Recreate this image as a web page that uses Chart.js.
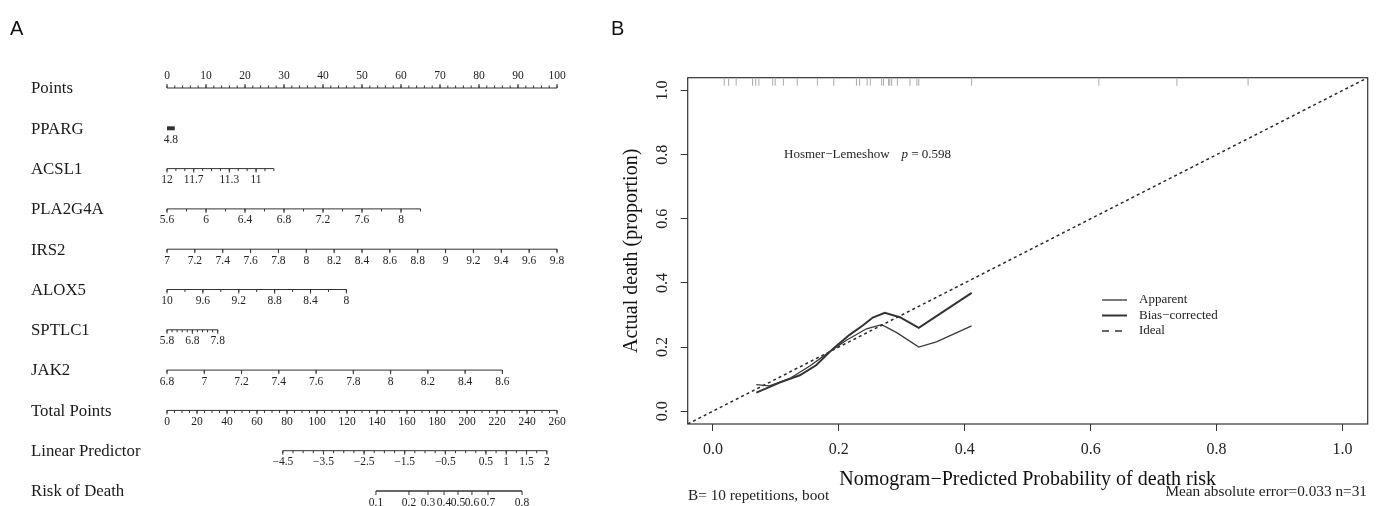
<!DOCTYPE html>
<html>
<head>
<meta charset="utf-8">
<script src="https://cdn.jsdelivr.net/npm/chart.js@4.4.1/dist/chart.umd.min.js"></script>
<style>
  html, body { margin: 0; padding: 0; background: #fff; }
  #wrap { position: relative; width: 1380px; height: 506px; }
  #boxA { position: absolute; left: 0; top: 0; width: 600px; height: 506px; }
  #boxB { position: absolute; left: 600px; top: 0; width: 780px; height: 506px; }
</style>
</head>
<body>
<div id="wrap">
  <div id="boxA"><canvas id="nomo"></canvas></div>
  <div id="boxB"><canvas id="calib"></canvas></div>
</div>
<script>
// ---------- panel A : nomogram ----------
const rowNames = ['Points', 'PPARG', 'ACSL1', 'PLA2G4A', 'IRS2', 'ALOX5', 'SPTLC1', 'JAK2',
  'Total Points', 'Linear Predictor', 'Risk of Death'];

const pointsLabels = [0, 10, 20, 30, 40, 50, 60, 70, 80, 90, 100];
const ppargLabels = [4.8];
const acsl1Labels = [12, 11.7, 11.3, 11];
const pla2g4aLabels = [5.6, 6, 6.4, 6.8, 7.2, 7.6, 8];
const irs2Labels = [7, 7.2, 7.4, 7.6, 7.8, 8, 8.2, 8.4, 8.6, 8.8, 9, 9.2, 9.4, 9.6, 9.8];
const alox5Labels = [10, 9.6, 9.2, 8.8, 8.4, 8];
const sptlc1Labels = [5.8, 6.8, 7.8];
const jak2Labels = [6.8, 7, 7.2, 7.4, 7.6, 7.8, 8, 8.2, 8.4, 8.6];
const totalLabels = [0, 20, 40, 60, 80, 100, 120, 140, 160, 180, 200, 220, 240, 260];
const lpLabels = [-4.5, -3.5, -2.5, -1.5, -0.5, 0.5, 1, 1.5, 2];
const riskLabels = [0.1, 0.2, 0.3, 0.4, 0.5, 0.6, 0.7, 0.8];
const riskAtTotal = [139.3, 161.3, 174, 184.7, 194, 203.3, 214, 236.7];

// ends of each scale, the points they reach, small tick spacing
const scaleFrom = [0, 4.7, 12, 5.6, 7, 10, 5.8, 6.8, 0, -4.5];
const scaleTo = [100, 4.9, 10.8, 8.2, 9.8, 8, 7.8, 8.6, 260, 2];
const pointsFrom = [0, 0, 0, 0, 0, 0, 0, 0, 0, 29.7];
const pointsTo = [100, 2, 27.4, 65, 100, 46, 13, 86, 100, 97.4];
const tickStep = [2, 0, 0.1, 0.2, 0.2, 0.2, 0.2, 0.2, 5, 0.25];

const fmt = v => (v < 0 ? '\u2212' + Math.abs(v) : String(v));
const totalToPts = t => t * 100 / 260;

const labelSets = [pointsLabels, ppargLabels, acsl1Labels, pla2g4aLabels, irs2Labels,
  alox5Labels, sptlc1Labels, jak2Labels, totalLabels, lpLabels];

const rows = labelSets.map((labels, i) => {
  const toPts = v => pointsFrom[i] + (v - scaleFrom[i]) / (scaleTo[i] - scaleFrom[i]) * (pointsTo[i] - pointsFrom[i]);
  const ticks = [];
  if (tickStep[i]) {
    const n = Math.round(Math.abs(scaleTo[i] - scaleFrom[i]) / tickStep[i]);
    const sgn = Math.sign(scaleTo[i] - scaleFrom[i]);
    for (let k = 0; k <= n; k++) ticks.push(toPts(scaleFrom[i] + sgn * k * tickStep[i]));
  }
  return { name: rowNames[i], from: pointsFrom[i], to: pointsTo[i], ticks,
    labels: labels.map(v => ({ text: fmt(v), at: toPts(v) })) };
});
rows.push({
  name: rowNames[10],
  from: totalToPts(riskAtTotal[0]),
  to: totalToPts(riskAtTotal[riskAtTotal.length - 1]),
  ticks: [],
  labels: riskLabels.map((v, k) => ({ text: fmt(v), at: totalToPts(riskAtTotal[k]) }))
});

const nomoDraw = {
  id: 'nomoDraw',
  afterDatasetsDraw(chart) {
    const { ctx, scales: { x, y } } = chart;
    ctx.save();
    ctx.fillStyle = '#111';
    ctx.font = '20px "Liberation Sans"';
    ctx.textAlign = 'left';
    ctx.textBaseline = 'middle';
    ctx.fillText('A', 10, 29);

    rows.forEach((r, i) => {
      const yy = y.getPixelForValue(i);
      const dir = i === 0 ? -1 : 1;
      ctx.font = '16.8px "Liberation Serif"';
      ctx.fillStyle = '#1a1a1a';
      ctx.textAlign = 'left';
      ctx.textBaseline = 'middle';
      ctx.fillText(r.name, 31, yy + 1);

      ctx.strokeStyle = '#333';
      ctx.lineWidth = 1;
      r.ticks.forEach(t => {
        const xx = x.getPixelForValue(t);
        ctx.beginPath(); ctx.moveTo(xx, yy); ctx.lineTo(xx, yy + dir * 2.5); ctx.stroke();
      });
      if (i !== 1) {
        r.labels.forEach(l => {
          const xx = x.getPixelForValue(l.at);
          ctx.beginPath(); ctx.moveTo(xx, yy); ctx.lineTo(xx, yy + dir * 4); ctx.stroke();
        });
      }
      ctx.font = '11.5px "Liberation Serif"';
      ctx.fillStyle = '#222';
      ctx.textAlign = 'center';
      r.labels.forEach(l => {
        ctx.fillText(l.text, x.getPixelForValue(l.at), yy + (i === 0 ? -12 : 11.5));
      });
    });
    ctx.restore();
  }
};

new Chart(document.getElementById('nomo'), {
  type: 'scatter',
  data: {
    datasets: rows.map((r, i) => ({
      data: [{ x: r.from, y: i }, { x: r.to, y: i }],
      showLine: true,
      borderColor: '#333',
      borderWidth: i === 1 ? 4 : (i === 10 ? 1.6 : 1),
      pointRadius: 0,
      clip: false
    }))
  },
  options: {
    responsive: true,
    maintainAspectRatio: false,
    animation: false,
    layout: { padding: { left: 167, right: 43, top: 88, bottom: 15 } },
    plugins: { legend: { display: false }, tooltip: { enabled: false } },
    scales: {
      x: { type: 'linear', min: 0, max: 100, display: false },
      y: { type: 'linear', min: 0, max: 10, reverse: true, display: false }
    }
  },
  plugins: [nomoDraw]
});

// ---------- panel B : calibration ----------
const calTicks = [0, 0.2, 0.4, 0.6, 0.8, 1.0];
const apparentX = [0.069, 0.090, 0.122, 0.154, 0.185, 0.212, 0.244, 0.268, 0.292, 0.327, 0.355, 0.411];
const apparentY = [0.083, 0.079, 0.102, 0.141, 0.185, 0.221, 0.257, 0.270, 0.245, 0.200, 0.216, 0.266];
const biasX = [0.069, 0.106, 0.138, 0.164, 0.191, 0.217, 0.238, 0.254, 0.273, 0.297, 0.327, 0.411];
const biasY = [0.058, 0.089, 0.112, 0.143, 0.195, 0.238, 0.267, 0.292, 0.307, 0.293, 0.260, 0.369];
const idealX = [-0.04, 1.04];
const rugX = [0.018, 0.025, 0.037, 0.063, 0.068, 0.073, 0.095, 0.099, 0.112, 0.134, 0.166, 0.192,
  0.228, 0.233, 0.245, 0.250, 0.268, 0.271, 0.279, 0.281, 0.284, 0.293, 0.313, 0.324, 0.327,
  0.411, 0.613, 0.737, 0.850];

const calDraw = {
  id: 'calDraw',
  afterDraw(chart) {
    const { ctx, chartArea: a, scales: { x, y } } = chart;
    ctx.save();
    // frame
    ctx.strokeStyle = '#333';
    ctx.lineWidth = 1.2;
    ctx.strokeRect(a.left, a.top, a.right - a.left, a.bottom - a.top);
    // rug of predicted values
    ctx.strokeStyle = '#aaa';
    ctx.lineWidth = 1;
    rugX.forEach(v => {
      const xx = x.getPixelForValue(v);
      ctx.beginPath(); ctx.moveTo(xx, a.top + 1); ctx.lineTo(xx, a.top + 8); ctx.stroke();
    });
    // y tick labels, rotated like R
    ctx.fillStyle = '#222';
    ctx.font = '16px "Liberation Serif"';
    ctx.textAlign = 'center';
    ctx.textBaseline = 'middle';
    calTicks.forEach(v => {
      ctx.save();
      ctx.translate(63, y.getPixelForValue(v));
      ctx.rotate(-Math.PI / 2);
      ctx.fillText(v.toFixed(1), 0, 0);
      ctx.restore();
    });
    // axis titles
    ctx.font = '20px "Liberation Serif"';
    ctx.fillStyle = '#111';
    ctx.fillText('Nomogram\u2212Predicted Probability of death risk', (a.left + a.right) / 2, 480);
    ctx.save();
    ctx.translate(32, (a.top + a.bottom) / 2);
    ctx.rotate(-Math.PI / 2);
    ctx.fillText('Actual death (proportion)', 0, 0);
    ctx.restore();
    // panel letter
    ctx.font = '20px "Liberation Sans"';
    ctx.textAlign = 'left';
    ctx.fillText('B', 11, 29);
    // Hosmer-Lemeshow
    ctx.font = '13px "Liberation Serif"';
    ctx.fillStyle = '#222';
    let tx = 184;
    ctx.fillText('Hosmer\u2212Lemeshow', tx, 155);
    tx += ctx.measureText('Hosmer\u2212Lemeshow').width + 12;
    ctx.font = 'italic 13px "Liberation Serif"';
    ctx.fillText('p', tx, 155);
    tx += ctx.measureText('p').width;
    ctx.font = '13px "Liberation Serif"';
    ctx.fillText(' = 0.598', tx, 155);
    // legend
    const leg = [['Apparent', 1.3, []], ['Bias\u2212corrected', 2, []], ['Ideal', 1.6, [7, 6]]];
    ctx.font = '13px "Liberation Serif"';
    leg.forEach((l, k) => {
      const ly = 300 + k * 15.5;
      ctx.strokeStyle = '#333';
      ctx.lineWidth = l[1];
      ctx.setLineDash(l[2]);
      ctx.beginPath(); ctx.moveTo(502, ly); ctx.lineTo(527, ly); ctx.stroke();
      ctx.setLineDash([]);
      ctx.fillText(l[0], 539, ly);
    });
    // footnotes
    ctx.font = '15.3px "Liberation Serif"';
    ctx.fillText('B= 10 repetitions, boot', 88, 496);
    ctx.textAlign = 'right';
    ctx.fillText('Mean absolute error=0.033 n=31', 767, 492);
    ctx.restore();
  }
};

new Chart(document.getElementById('calib'), {
  type: 'scatter',
  data: {
    datasets: [
      { label: 'Apparent', data: apparentX.map((v, i) => ({ x: v, y: apparentY[i] })),
        showLine: true, borderColor: '#3a3a3a', borderWidth: 1.3, pointRadius: 0 },
      { label: 'Bias-corrected', data: biasX.map((v, i) => ({ x: v, y: biasY[i] })),
        showLine: true, borderColor: '#333', borderWidth: 2, pointRadius: 0 },
      { label: 'Ideal', data: idealX.map(v => ({ x: v, y: v })),
        showLine: true, borderColor: '#2a2a2a', borderWidth: 1.5, borderDash: [3, 3], pointRadius: 0 }
    ]
  },
  options: {
    responsive: true,
    maintainAspectRatio: false,
    animation: false,
    layout: { padding: { top: 77.7, right: 12.3, left: 0, bottom: 0 } },
    plugins: { legend: { display: false }, tooltip: { enabled: false } },
    scales: {
      x: {
        type: 'linear', min: -0.04, max: 1.04,
        afterBuildTicks: s => { s.ticks = calTicks.map(v => ({ value: v })); },
        afterFit: s => { s.height = 82; },
        grid: { drawOnChartArea: false, drawTicks: true, tickLength: 7, color: '#333' },
        border: { display: false },
        ticks: { font: { family: 'Liberation Serif', size: 16 }, color: '#222', padding: 9,
          maxRotation: 0, autoSkip: false, callback: v => Number(v).toFixed(1) }
      },
      y: {
        type: 'linear', min: -0.04, max: 1.04,
        afterBuildTicks: s => { s.ticks = calTicks.map(v => ({ value: v })); },
        afterFit: s => { s.width = 87.7; },
        grid: { drawOnChartArea: false, drawTicks: true, tickLength: 7, color: '#333' },
        border: { display: false },
        ticks: { color: 'rgba(0,0,0,0)', font: { family: 'Liberation Serif', size: 16 } }
      }
    }
  },
  plugins: [calDraw]
});
</script>
</body>
</html>
